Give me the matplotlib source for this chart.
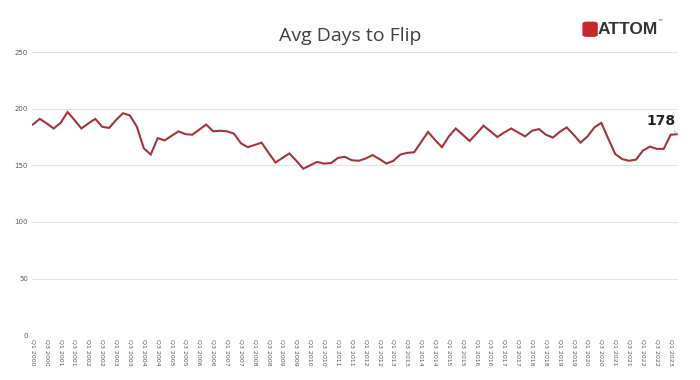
import matplotlib
matplotlib.use("Agg")
import matplotlib.pyplot as plt
from matplotlib.patches import FancyBboxPatch

# Quarterly periods Q1 2000 .. Q2 2023
quarters = [f"Q{q} {y}" for y in range(2000, 2024) for q in (1, 2, 3, 4)][:94]

avg_days = [186, 191, 187, 182.5, 187.5, 197, 190, 182.5, 187, 191,
            184, 183, 190, 196, 194, 184, 165, 159.5, 174, 172,
            176, 180, 177.5, 177, 181.5, 186, 180, 180.5, 180, 178,
            169.5, 166, 168, 170, 161, 152.5, 156.5, 160.5, 154, 147,
            150, 153, 151.5, 152, 156.5, 157.5, 154.5, 154, 156, 159,
            155.5, 151.5, 154, 159.5, 161, 161.5, 170.5, 179.5, 172.5, 166,
            175.5, 182.5, 177, 171.5, 178, 185, 180, 175, 179, 182.5,
            179, 175.5, 180.5, 182, 177, 174.5, 179.5, 183.5, 177, 170,
            175.5, 183.5, 187.5, 173.5, 160, 155.5, 154, 155, 163, 166.5,
            164.5, 164.5, 177, 177.5]

tick_labels = quarters[0::2]
y_ticks = [0, 50, 100, 150, 200, 250]
last_label = "178"
title = "Avg Days to Flip"

fig = plt.figure(figsize=(7, 3.8), dpi=100)
fig.patch.set_facecolor("white")
ax = fig.add_axes([0.046, 0.118, 0.923, 0.745])

x = list(range(len(avg_days)))
ax.plot(x, avg_days, color="#A3343A", linewidth=1.5, solid_joinstyle="miter", zorder=3)

ax.set_ylim(0, 250)
ax.set_xlim(-0.1, len(avg_days) - 0.9)
ax.set_yticks(y_ticks)
ax.set_yticklabels([str(v) for v in y_ticks], fontsize=5, color="#595959")
ax.set_xticks(x[0::2])
ax.set_xticklabels(tick_labels, rotation=-90, fontsize=4.5, color="#595959")
ax.tick_params(axis="both", length=0, pad=3)
ax.yaxis.grid(True, color="#e3e3e3", linewidth=0.8)
ax.set_axisbelow(True)
for s in ax.spines.values():
    s.set_visible(False)

# annotation of the last value
ax.annotate(last_label, xy=(x[-1], avg_days[-1]), xytext=(x[-1] - 2.4, avg_days[-1] + 5.5),
            ha="center", va="bottom", fontsize=10, fontweight="bold", color="#222222",
            arrowprops=dict(arrowstyle="-", color="#bbbbbb", lw=0.6, shrinkA=0, shrinkB=0,
                            relpos=(0.85, 0.0)))

fig.text(0.5, 0.905, title, ha="center", va="center", fontsize=14,
         color="#404040", family="Open Sans")

# ATTOM logo
logo = FancyBboxPatch((0.834, 0.905), 0.018, 0.036, boxstyle="round,pad=0.002,rounding_size=0.006",
                      transform=fig.transFigure, facecolor="#C8262C", edgecolor="none")
fig.patches.append(logo)
fig.text(0.854, 0.922, "ATTOM", ha="left", va="center", fontsize=12.5,
         fontweight="bold", color="#333333", family="Liberation Sans")
fig.text(0.9395, 0.942, "™", ha="left", va="center", fontsize=4, color="#333333")

fig.savefig("out.png", dpi=100, facecolor="white")
